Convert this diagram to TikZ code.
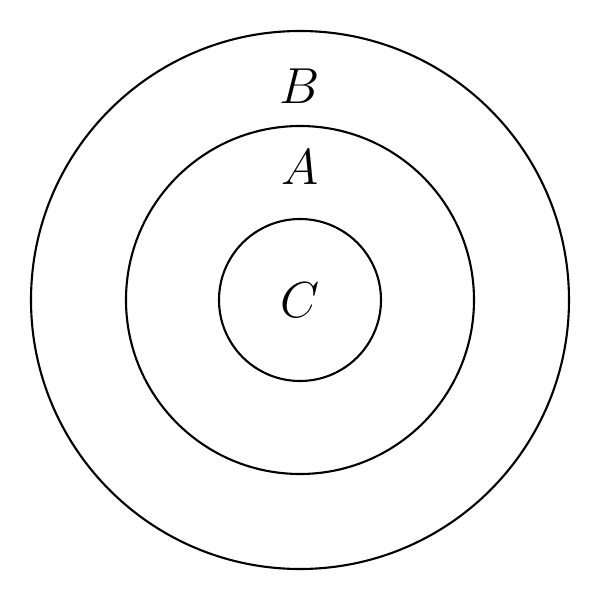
\documentclass[tikz,border=0pt]{standalone}
\begin{document}
\begin{tikzpicture}[ring/.style={draw,line width=0.6pt},lab/.style={font=\fontsize{14.5}{17}\selectfont}]
\useasboundingbox (-3,-3) rectangle (3,3);
\draw[ring] (0,0) circle (2.69);
\draw[ring] (0,0) circle (1.74);
\draw[ring] (0,0) circle (0.81);
\node[lab] (b) at (0,2.14) {$B$};
\node[lab] (a) at (0,1.33) {$A$};
\node[lab] (c) at (0,0) {$C$};
\end{tikzpicture}
\end{document}
